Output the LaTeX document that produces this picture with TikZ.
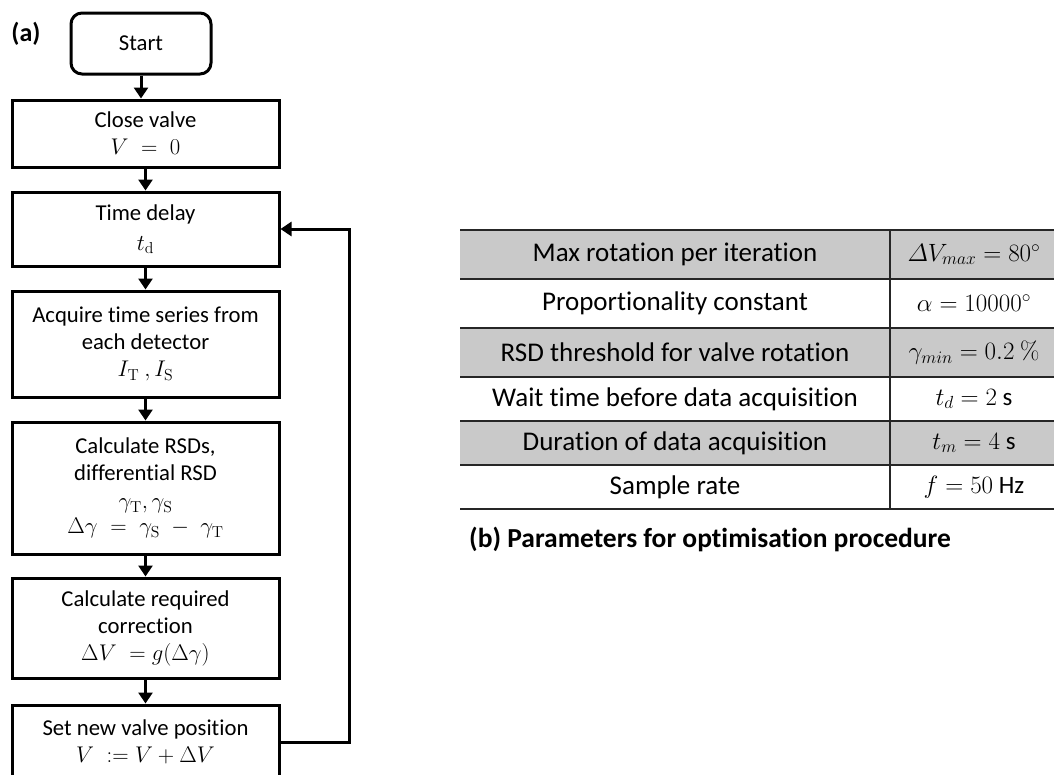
\RequirePackage{fix-cm}
\documentclass[tikz,border=0pt]{standalone}
\usepackage{amsmath}
\usepackage[no-math]{fontspec}
\setmainfont[Ligatures=NoCommon]{Carlito}
\usetikzlibrary{arrows.meta}
\definecolor{rowgray}{RGB}{201,201,201}
\begin{document}
\begin{tikzpicture}[x=1pt,y=-1pt,
  flowbox/.style={draw, line width=3pt, minimum width=267pt, align=center,
    font=\fontsize{22.7}{27}\selectfont, inner sep=0pt},
  startbox/.style={flowbox, rounded corners=11pt, minimum width=140pt, minimum height=61pt},
  conn/.style={line width=3pt, -{Triangle[length=11pt,width=14pt]}},
  tabtext/.style={font=\fontsize{27}{30}\selectfont, inner sep=0pt},
  valtext/.style={font=\fontsize{25}{30}\selectfont, inner sep=0pt},
  tabline/.style={line width=1.6pt, draw=black!85},
  lbl/.style={font=\bfseries\fontsize{26}{30}\selectfont, inner sep=0pt},
  captext/.style={font=\bfseries\fontsize{27.5}{30}\selectfont, inner sep=0pt}
]
\useasboundingbox (0,0) rectangle (1054,774);

% ---- flowchart (a)
\node[lbl] (la) at (26,34) {(a)};
\node[startbox] (start) at (141,43.5) {Start};
\node[flowbox, minimum height=67pt] (close) at (145.5,133.5) {Close valve\\$V\;=\;0$};
\node[flowbox, minimum height=74pt] (delay) at (145.5,229) {Time delay\\[3pt]$t_{\mathrm{d}}$};
\node[flowbox, minimum height=106pt] (acq) at (145.5,344) {Acquire time series from\\each detector\\$I_{\mathrm{T}}\ ,I_{\mathrm{S}}$};
\node[flowbox, minimum height=132pt] (rsd) at (145.5,488) {Calculate RSDs,\\differential RSD\\[1pt]$\gamma_{\mathrm{T}},\gamma_{\mathrm{S}}$\\[-2pt]$\Delta\gamma\;=\;\gamma_{\mathrm{S}}\;-\;\gamma_{\mathrm{T}}$};
\node[flowbox, minimum height=100pt] (corr) at (145.5,628) {Calculate required\\correction\\$\Delta V\;=g(\Delta\gamma)$};
\node[flowbox, minimum height=74pt] (setv) at (145.5,742) {Set new valve position\\$V\;\mathrel{:=}V+\Delta V$};

\draw[conn] (start.south) -- (start.south |- close.north);
\draw[conn] (close.south) -- (close.south |- delay.north);
\draw[conn] (delay.south) -- (delay.south |- acq.north);
\draw[conn] (acq.south) -- (acq.south |- rsd.north);
\draw[conn] (rsd.south) -- (rsd.south |- corr.north);
\draw[conn] (corr.south) -- (corr.south |- setv.north);
\coordinate (loopR) at (349,742);
\draw[conn] (setv.east) -- (loopR) -- (loopR |- delay.east) -- (delay.east);

% ---- table (b)
\fill[rowgray] (460,230) rectangle (1054,279);
\fill[rowgray] (460,328) rectangle (1054,377);
\fill[rowgray] (460,421) rectangle (1054,465);
\foreach \yy in {230,279,328,377,421,465,509}
  \draw[tabline] (460,\yy) -- (1054,\yy);
\draw[tabline] (890,230) -- (890,509);

\node[tabtext] (p1) at (675,254.5) {Max rotation per iteration};
\node[tabtext] (p2) at (675,303.5) {Proportionality constant};
\node[tabtext] (p3) at (675,352.5) {RSD threshold for valve rotation};
\node[tabtext] (p4) at (675,399) {Wait time before data acquisition};
\node[tabtext] (p5) at (675,443) {Duration of data acquisition};
\node[tabtext] (p6) at (675,487) {Sample rate};

\node[valtext] (v1) at (974,254.5) {$\varDelta V_{max}=80^{\circ}$};
\node[valtext] (v2) at (974,303.5) {$\alpha=10000^{\circ}$};
\node[valtext] (v3) at (974,352.5) {$\gamma_{min}=0.2\ \%$};
\node[valtext] (v4) at (974,399) {$t_{d}=2$ s};
\node[valtext] (v5) at (974,443) {$t_{m}=4$ s};
\node[valtext] (v6) at (974,487) {$f=50$ Hz};

\node[captext, anchor=west] (lb) at (469,539) {(b) Parameters for optimisation procedure};
\end{tikzpicture}
\end{document}
